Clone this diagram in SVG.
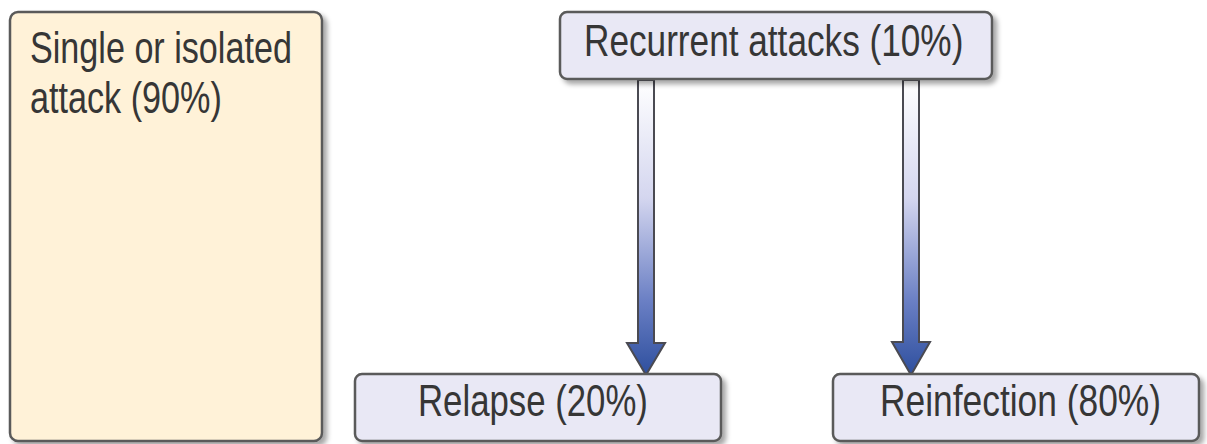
<svg xmlns="http://www.w3.org/2000/svg" width="1207" height="444" viewBox="0 0 1207 444">
<style>
.box{stroke:#5a5a5a;stroke-width:2.5}
.cream{fill:#fff2d8}
.lav{fill:#e9e8f5}
.t{font-family:"Liberation Sans",Arial,sans-serif;font-size:44px;fill:#363636}
.arr{stroke:#4a4a52;stroke-width:2;fill:url(#ag)}
</style>
<defs>
<filter id="sh" x="-10%" y="-10%" width="130%" height="140%">
<feDropShadow dx="4" dy="4" stdDeviation="2.5" flood-color="#000" flood-opacity="0.35"/>
</filter>
<linearGradient id="ag" x1="0" y1="0" x2="0" y2="1">
<stop offset="0" stop-color="#ffffff"/>
<stop offset="0.4" stop-color="#d4d6ef"/>
<stop offset="0.75" stop-color="#6a7fc4"/>
<stop offset="1" stop-color="#2e4f9e"/>
</linearGradient>
</defs>
<g id="connectors">
<path class="arr" d="M638,80 L654,80 L654,343 L665,343 L646,375 L627,343 L638,343 Z"/>
<path class="arr" d="M903,80 L919,80 L919,342 L930,342 L911,375 L892,342 L903,342 Z"/>
</g>
<g id="single">
<rect class="box cream" x="10" y="12" width="312" height="429" rx="8" filter="url(#sh)"/>
<text class="t" transform="translate(30,63) scale(0.776,1)">Single or isolated</text>
<text class="t" transform="translate(30,113) scale(0.777,1)">attack (90%)</text>
</g>
<g id="recurrent">
<rect class="box lav" x="560" y="12" width="432" height="67" rx="7" filter="url(#sh)"/>
<text class="t" transform="translate(584,56) scale(0.8,1)">Recurrent attacks (10%)</text>
</g>
<g id="relapse">
<rect class="box lav" x="355" y="374" width="366" height="67" rx="7" filter="url(#sh)"/>
<text class="t" transform="translate(418,416) scale(0.79,1)">Relapse (20%)</text>
</g>
<g id="reinfection">
<rect class="box lav" x="833" y="374" width="366" height="67" rx="7" filter="url(#sh)"/>
<text class="t" transform="translate(880,416) scale(0.804,1)">Reinfection (80%)</text>
</g>
</svg>
